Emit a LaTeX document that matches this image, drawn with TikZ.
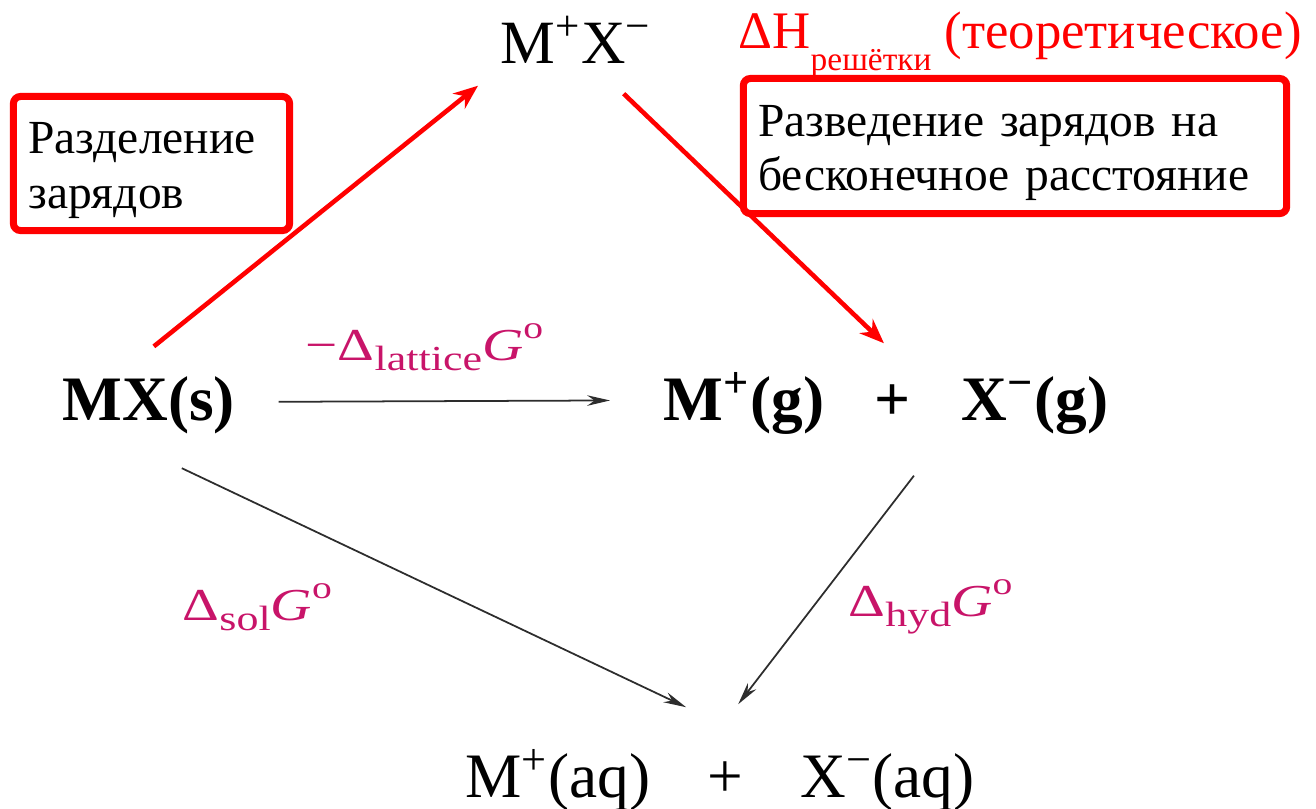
\documentclass[tikz,border=0pt]{standalone}
\usepackage{fontspec}
\setmainfont{Liberation Serif}
\newfontfamily\widefont[FakeStretch=1.25]{Liberation Serif}
\usetikzlibrary{arrows.meta,positioning,calc}
\definecolor{labpink}{RGB}{200,20,105}
\definecolor{arrgray}{RGB}{45,45,45}
\newcommand{\psub}[1]{\raisebox{-3pt}{\fontsize{10}{12}\selectfont #1}}
\newcommand{\psup}[1]{\raisebox{6pt}{\fontsize{9}{10}\selectfont #1}}

\begin{document}
\begin{tikzpicture}[x=0.01cm,y=-0.01cm,>=Stealth,
  redbox/.style={draw=red,line width=2pt,rounded corners=2pt,align=left,inner xsep=0.15cm,
    font=\fontsize{13.5}{15.5}\selectfont,minimum height=1.34cm},
  redarr/.style={red,line width=1.3pt,-{Stealth[length=7pt,width=5.5pt]}},
  blkarr/.style={arrgray,line width=0.5pt,-{Stealth[length=6.5pt,width=3pt]}},
  pinklab/.style={labpink,anchor=base west,inner sep=0pt,font=\widefont\fontsize{13}{15}\selectfont},
  chem/.style={anchor=base west,inner sep=0pt,font=\fontsize{18}{20}\selectfont}]
\useasboundingbox (0,0) rectangle (1316,808);

% ion pair and the lattice enthalpy
\node[chem,font=\fontsize{17.5}{20}\selectfont] (ionpair) at (500,63) {M\textsuperscript{+}X\textsuperscript{\char"2212}};
\node[anchor=base west,inner sep=0pt,red,font=\fontsize{15}{17}\selectfont] (dh) at (738,48)
  {ΔH\raisebox{-6.3pt}{\fontsize{9.5}{11}\selectfont решётки} (теоретическое)};

% comment boxes
\node[redbox,text width=2.46cm] (sep) at (151.5,163.5) {\rule{0pt}{0.45cm}Разделение\\зарядов};
\node[redbox,text width=5.13cm,minimum height=1.35cm] (far) at (1015,146) {\rule{0pt}{0.45cm}Разведение зарядов на\\бесконечное расстояние};

% the cycle
\node[chem,font=\bfseries\fontsize{18}{20}\selectfont] (solid) at (62,420) {MX(s)};
\node[chem,font=\bfseries\fontsize{18}{20}\selectfont] (gas) at (663,420)
  {M\textsuperscript{+}(g)\hspace{0.8em}+\hspace{0.8em}X\textsuperscript{\char"2212}(g)};
\node[chem] (aq) at (465,797) {M\textsuperscript{+}(aq)\hspace{0.9em}+\hspace{0.9em}X\textsuperscript{\char"2212}(aq)};

\node[pinklab] (latlab) at (305,360) {\char"2212Δ\psub{lattice}\textit{G}\psup{o}};
\node[pinklab] (sollab) at (182,620) {Δ\psub{sol}\textit{G}\psup{o}};
\node[pinklab] (hydlab) at (848,616) {Δ\psub{hyd}\textit{G}\psup{o}};

\draw[blkarr] ($(solid.east)+(43,-3)$) -- ($(gas.west)+(-53,-3)$);
\draw[blkarr] ($(solid.south)+(33,34)$) -- ($(aq.north)+(-34,-42)$);
\draw[blkarr] ($(gas.south)+(28,41)$) -- ($(aq.north)+(18,-45)$);

\draw[redarr] ($(solid.north)+(5,-29)$) -- ($(ionpair.south west)+(-22,22)$);
\draw[redarr] ($(ionpair.south east)+(-29,30)$) -- ($(gas.north)+(-2,-29)$);
\end{tikzpicture}
\end{document}
